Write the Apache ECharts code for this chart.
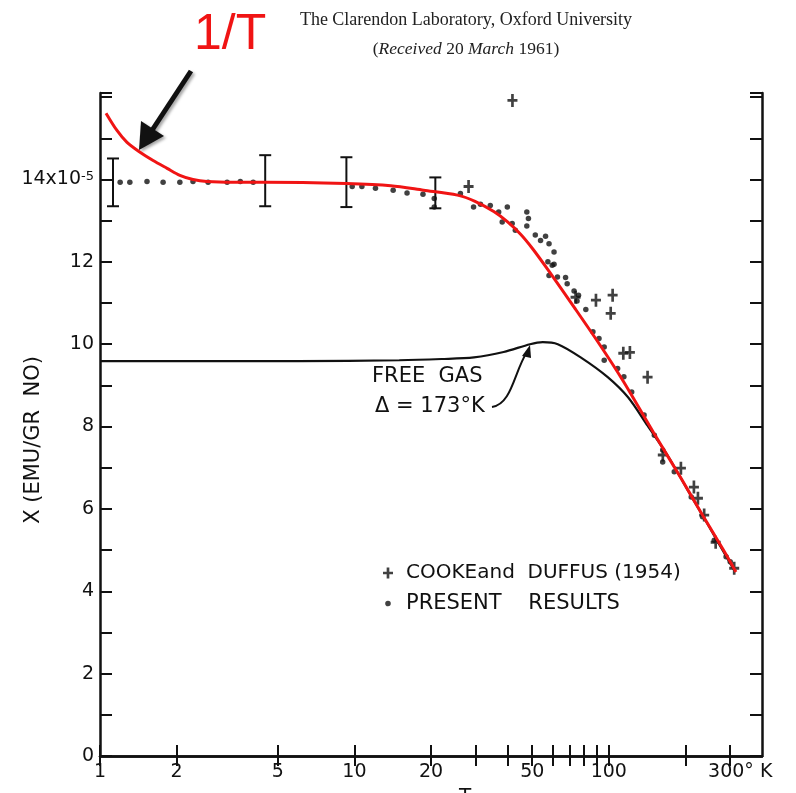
<!DOCTYPE html>
<html>
<head>
<meta charset="utf-8">
<script src="https://cdn.jsdelivr.net/npm/echarts@6/dist/echarts.min.js"></script>
<style>
  html, body { margin: 0; padding: 0; background: #fff; }
  #main { width: 796px; height: 793px; }
</style>
</head>
<body>
<div id="main"></div>
<script>
// 1/T fit (red)
const redT = [1.056, 1.166, 1.277, 1.437, 1.617, 1.835, 2.06, 2.32, 2.63, 3.34, 4.46, 9.3, 13.9, 18.7, 25.4, 29.8, 35.3, 40, 45, 50, 57.6, 73, 93, 114, 150, 192, 230, 281, 316];
const redChi = [15.61, 15.19, 14.9, 14.66, 14.46, 14.27, 14.1, 14.0, 13.95, 13.93, 13.93, 13.9, 13.85, 13.74, 13.62, 13.47, 13.22, 12.97, 12.67, 12.33, 11.81, 10.9, 9.95, 9.1, 7.85, 6.75, 5.92, 5.02, 4.47];

// free gas curve, delta = 173 K
const gasT = [1, 2.5, 6, 15, 22, 29.5, 38.6, 49, 55, 63, 77.5, 99, 119, 142, 171, 204, 245, 311];
const gasChi = [9.59, 9.59, 9.59, 9.61, 9.64, 9.68, 9.81, 10.0, 10.05, 10.0, 9.68, 9.2, 8.71, 8.02, 7.28, 6.46, 5.62, 4.51];

// present results (dots)
const presentT = [1.2, 1.31, 1.53, 1.77, 2.06, 2.32, 2.66, 3.16, 3.56, 4.0,
  9.8, 10.7, 12.1, 14.2, 16.1, 18.6, 20.6, 20.6,
  26.1, 29.4, 31.3, 34.2, 36.9, 39.9, 38.1, 41.7, 42.9, 47.6, 48.3, 47.6, 51.4, 53.9, 56.4, 58.2, 60.9, 57.6, 60.9, 58.2, 62.8, 67.6, 68.6, 73.0, 76.0, 75.0, 81.2,
  59.9, 86.6, 91.5, 95.9, 95.9, 108.3, 114.6, 123, 137.6, 151, 162.8, 162.8, 180.8, 210.8, 233.5, 259.7, 289, 300];
const presentChi = [13.93, 13.93, 13.95, 13.93, 13.93, 13.95, 13.93, 13.93, 13.95, 13.93,
  13.83, 13.83, 13.79, 13.74, 13.67, 13.64, 13.54, 13.33,
  13.66, 13.33, 13.4, 13.37, 13.21, 13.33, 12.97, 12.93, 12.77, 13.21, 13.05, 12.87, 12.65, 12.52, 12.62, 12.44, 12.24, 12.0, 11.94, 11.67, 11.63, 11.62, 11.47, 11.29, 11.19, 11.05, 10.84,
  11.92, 10.3, 10.14, 9.93, 9.61, 9.41, 9.21, 8.84, 8.28, 7.79, 7.43, 7.14, 6.9, 6.29, 5.81, 5.24, 4.84, 4.72];

// Cooke and Duffus (1954), crosses
const cookeT = [41.8, 28.1, 74, 89, 103.5, 101.7, 114, 121, 142, 163, 192, 216, 224, 237, 263, 311];
const cookeChi = [15.92, 13.83, 11.14, 11.07, 11.19, 10.75, 9.78, 9.8, 9.2, 7.31, 6.99, 6.53, 6.26, 5.85, 5.19, 4.56];

// error bars
const errT = [1.125, 4.46, 9.3, 20.8];
const errLow = [13.35, 13.35, 13.33, 13.3];
const errHigh = [14.51, 14.59, 14.54, 14.05];

const xTicks = [1, 2, 5, 10, 20, 30, 40, 50, 60, 70, 80, 90, 100, 200, 300];
const xLabels = [1, 2, 5, 10, 20, 50, 100, 300];

const FONT = 'DejaVu Sans';
const zip = (a, b) => a.map((v, i) => [v, b[i]]);
const plusPath = 'path://M3.8,0H6.2V3.9H9.5V6.1H6.2V10H3.8V6.1H0.5V3.9H3.8Z';
const dotPath = 'path://M0,0M10,10M5,2.2A2.8,2.8,0,1,1,4.99,2.2Z';

const chart = echarts.init(document.getElementById('main'), null, { renderer: 'canvas' });

const axisLine = { show: true, lineStyle: { color: '#111', width: 2.5 } };
const tickStyle = { color: '#111', width: 2 };

chart.setOption({
  animation: false,
  backgroundColor: '#fff',
  title: {
    left: 461, top: 6, textAlign: 'center', itemGap: 11,
    text: 'The Clarendon Laboratory, Oxford University',
    textStyle: { fontFamily: 'Liberation Serif', fontSize: 18, fontWeight: 'normal', color: '#222' },
    subtext: '({i|Received} 20 {i|March} 1961)',
    subtextStyle: {
      fontFamily: 'Liberation Serif', fontSize: 17.5, color: '#222',
      rich: { i: { fontFamily: 'Liberation Serif', fontStyle: 'italic', fontSize: 17.5, color: '#222' } }
    }
  },
  grid: { left: 100, right: 34, top: 93, bottom: 37, containLabel: false, outerBoundsMode: 'none' },
  legend: {
    orient: 'vertical', left: 378, top: 558, itemGap: 10, itemWidth: 10, itemHeight: 13,
    textStyle: { fontFamily: FONT, fontSize: 20, color: '#111', padding: [0, 0, 0, 8] },
    data: [
      { name: 'COOKEand  DUFFUS (1954)', icon: plusPath, itemStyle: { color: '#111' } },
      { name: 'PRESENT    RESULTS', icon: dotPath, itemStyle: { color: '#111' }, textStyle: { fontSize: 21 } }
    ],
    selectedMode: false
  },
  xAxis: [{
    type: 'log', logBase: 10, min: 1, max: 400, position: 'bottom',
    name: 'T', nameLocation: 'middle', nameGap: 26,
    nameTextStyle: { fontFamily: FONT, fontSize: 20, color: '#111', padding: [0, 0, 0, 68] },
    axisLine: axisLine,
    axisTick: { show: true, inside: true, length: 11, lineStyle: tickStyle, customValues: xTicks },
    minorTick: { show: false },
    axisLabel: {
      customValues: xLabels, margin: 7, fontFamily: FONT, fontSize: 19, color: '#111',
      formatter: v => (v === 300 ? '{sp|}300° K' : String(v)),
      rich: { sp: { width: 20 } }
    },
    splitLine: { show: false }
  }, {
    type: 'log', logBase: 10, min: 1, max: 400, position: 'top',
    axisLine: axisLine,
    axisTick: { show: true, inside: true, length: 10, lineStyle: tickStyle, customValues: xTicks },
    axisLabel: { show: false },
    splitLine: { show: false }
  }],
  yAxis: [{
    type: 'value', min: 0, max: 16.1, interval: 1, position: 'left',
    axisLine: axisLine,
    axisTick: { show: true, inside: true, length: 12, lineStyle: tickStyle },
    axisLabel: {
      margin: 6, fontFamily: FONT, fontSize: 19, color: '#111',
      formatter: v => {
        if (v % 2 !== 0 || v > 14) return '';
        if (v === 14) return '14x10{sup|-5}';
        return String(v);
      },
      rich: { sup: { fontFamily: FONT, fontSize: 13, color: '#111', verticalAlign: 'top' } }
    },
    splitLine: { show: false }
  }, {
    type: 'value', min: 0, max: 16.1, interval: 1, position: 'right',
    axisLine: axisLine,
    axisTick: { show: true, inside: true, length: 12, lineStyle: tickStyle },
    axisLabel: { show: false },
    splitLine: { show: false }
  }],
  graphic: [
    // y axis title
    {
      type: 'text', x: 34, y: 440, rotation: Math.PI / 2,
      style: { text: 'X (EMU/GR  NO)', fontFamily: FONT, fontSize: 21, fill: '#111', align: 'center', verticalAlign: 'middle' }
    },
    { type: 'text', left: 194, top: 10, style: { text: '1/T', fontFamily: 'Liberation Sans', fontSize: 50, fill: '#f01414' } },
    {
      type: 'line', shape: { x1: 191, y1: 71, x2: 145, y2: 141 },
      style: { stroke: '#111', lineWidth: 5, shadowColor: 'rgba(0,0,0,0.35)', shadowBlur: 3, shadowOffsetX: 2, shadowOffsetY: 2 }
    },
    {
      type: 'polygon', shape: { points: [[139, 150], [141, 121], [164, 136]] },
      style: { fill: '#111', shadowColor: 'rgba(0,0,0,0.35)', shadowBlur: 3, shadowOffsetX: 2, shadowOffsetY: 2 }
    },
    { type: 'text', left: 372, top: 366, style: { text: 'FREE  GAS', fontFamily: FONT, fontSize: 21, fill: '#111' } },
    { type: 'text', left: 375, top: 396, style: { text: 'Δ = 173°K', fontFamily: FONT, fontSize: 21, fill: '#111' } },
    {
      type: 'bezierCurve', shape: { x1: 492, y1: 407, cpx1: 512, cpy1: 404, cpx2: 514, cpy2: 372, x2: 527, y2: 352 },
      style: { stroke: '#111', lineWidth: 2, fill: null }
    },
    { type: 'polygon', shape: { points: [[530, 345], [522, 356], [531, 358]] }, style: { fill: '#111' } }
  ],
  series: [
    {
      name: 'FREE GAS', type: 'line', smooth: 0.3, showSymbol: false, symbol: 'none',
      lineStyle: { color: '#111', width: 2.2 }, data: zip(gasT, gasChi), z: 3
    },
    {
      name: 'PRESENT    RESULTS', type: 'scatter', symbol: 'circle', symbolSize: 5.5,
      itemStyle: { color: '#111' }, data: zip(presentT, presentChi), z: 4
    },
    {
      name: 'COOKEand  DUFFUS (1954)', type: 'scatter', symbol: plusPath, symbolSize: [10, 13],
      itemStyle: { color: '#111' }, data: zip(cookeT, cookeChi), z: 4, clip: false
    },
    {
      name: 'error', type: 'custom', z: 4,
      encode: { x: 0, y: [1, 2] },
      data: errT.map((t, i) => [t, errLow[i], errHigh[i]]),
      renderItem: function (params, api) {
        const lo = api.coord([api.value(0), api.value(1)]);
        const hi = api.coord([api.value(0), api.value(2)]);
        const w = 6;
        const st = { stroke: '#111', lineWidth: 2 };
        return {
          type: 'group', children: [
            { type: 'line', shape: { x1: lo[0], y1: lo[1], x2: hi[0], y2: hi[1] }, style: st },
            { type: 'line', shape: { x1: lo[0] - w, y1: lo[1], x2: lo[0] + w, y2: lo[1] }, style: st },
            { type: 'line', shape: { x1: hi[0] - w, y1: hi[1], x2: hi[0] + w, y2: hi[1] }, style: st }
          ]
        };
      }
    },
    {
      name: '1/T', type: 'line', smooth: 0.3, showSymbol: false, symbol: 'none',
      lineStyle: { color: '#f01414', width: 3 }, data: zip(redT, redChi), z: 6
    }
  ]
});
</script>
</body>
</html>
